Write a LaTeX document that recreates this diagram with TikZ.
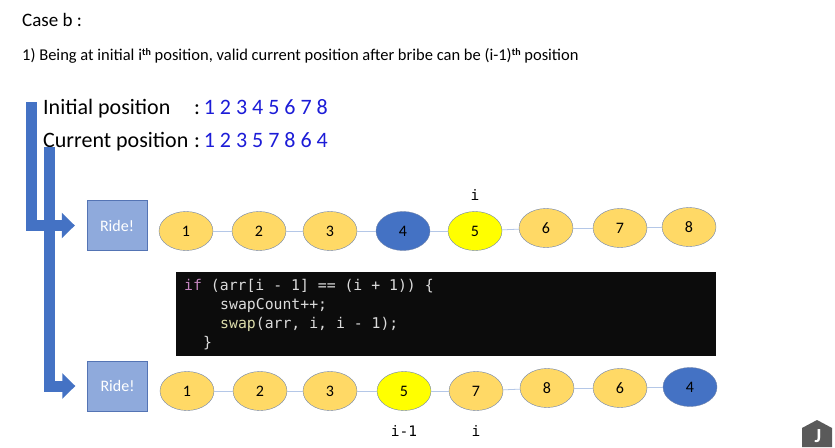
\documentclass[tikz,border=0pt]{standalone}
\usepackage{fontspec}
\setmainfont{Carlito}
\newfontfamily\codefont{DejaVu Sans Mono}
\usetikzlibrary{shapes.geometric,arrows.meta,positioning}
\definecolor{arrowblue}{RGB}{68,114,196}
\definecolor{ridefill}{RGB}{143,170,220}
\definecolor{rideedge}{RGB}{84,116,180}
\definecolor{ballgold}{RGB}{255,217,102}
\definecolor{ballyellow}{RGB}{255,255,0}
\definecolor{balledge}{RGB}{110,130,170}
\definecolor{linkblue}{RGB}{180,199,231}
\definecolor{numblue}{RGB}{28,28,215}
\definecolor{codebg}{RGB}{12,12,12}
\definecolor{codetext}{RGB}{220,220,220}
\definecolor{codepink}{RGB}{197,134,192}
\definecolor{codeyellow}{RGB}{220,220,170}
\definecolor{jgray}{RGB}{90,90,90}
\newcommand{\thsup}{\raisebox{0.55ex}{\fontsize{10}{10}\selectfont\bfseries th}}

\tikzset{
	ridebox/.style={draw=rideedge, fill=ridefill, minimum width=60pt, minimum height=50pt, text=white, font=\fontsize{16}{18}\selectfont},
	ball/.style={ellipse, draw=balledge, fill=ballgold, minimum width=54pt, minimum height=39pt, inner sep=0pt, font=\fontsize{16}{18}\selectfont},
	link/.style={draw=linkblue, line width=0.8pt},
	bigarrow/.style={draw=arrowblue, line width=11pt, line join=miter, -{Triangle[width=25pt,length=13pt]}, shorten >=12pt},
	idx/.style={inner sep=0pt, font=\codefont\fontsize{14.5}{17}\selectfont},
	codeline/.style={anchor=base west, inner sep=0pt, text=codetext, font=\codefont\fontsize{14.8}{19}\selectfont},
	plain/.style={anchor=base west, inner sep=0pt},
}

\begin{document}
\begin{tikzpicture}[x=1pt, y=-1pt]
	\useasboundingbox (0,0) rectangle (835,447);

	% heading
	\node[plain, font=\fontsize{19}{21}\selectfont] (casetitle) at (22,26) {Case b :};
	\node[plain, font=\fontsize{16.5}{18}\selectfont] (claim) at (22,60) {1) Being at initial i\thsup{} position, valid current position after bribe can be (i-1)\thsup{} position};

	% positions
	\node[plain, font=\fontsize{22}{24}\selectfont] (initlabel) at (43,114) {Initial position};
	\node[plain, font=\fontsize{22}{24}\selectfont] (initnums) at (194,114) {:\,\textcolor{numblue}{1 2 3 4 5 6 7 8}};
	\node[plain, font=\fontsize{22}{24}\selectfont] (currlabel) at (43,147) {Current position};
	\node[plain, font=\fontsize{22}{24}\selectfont] (currnums) at (194,147) {:\,\textcolor{numblue}{1 2 3 5 7 8 6 4}};

	% ride boxes
	\node[ridebox] (ride1) at (117,225.5) {Ride!};
	\node[ridebox] (ride2) at (117.5,386) {Ride!};

	% big arrows
	\coordinate (start1) at (31,102);
	\coordinate (start2) at (49,147);
	\draw[bigarrow] (start1) |- (ride1.west);
	\draw[bigarrow] (start2) |- (ride2.west);

	% initial line
	\node[ball] (top1) at (186,231) {1};
	\node[ball] (top2) at (259,231) {2};
	\node[ball] (top3) at (330,231) {3};
	\node[ball, fill=arrowblue] (top4) at (403,231) {4};
	\node[ball, fill=ballyellow] (top5) at (475,231) {5};
	\node[ball] (top6) at (546,228) {6};
	\node[ball] (top7) at (620,228) {7};
	\node[ball] (top8) at (689,227) {8};
	\foreach \a/\b in {1/2,2/3,3/4,4/5,5/6,6/7,7/8}
		\draw[link] (top\a) -- (top\b);
	\node[idx] (topi) at (475,195) {i};

	% code
	\node[fill=codebg, minimum width=540pt, minimum height=84pt, inner sep=0pt] (codebox) at (446,314) {};
	\node[codeline] (code1) at (184,290) {\textcolor{codepink}{if} (arr[i - 1] == (i + 1)) \{};
	\node[codeline] (code2) at (220,309) {swapCount++;};
	\node[codeline] (code3) at (220,328) {\textcolor{codeyellow}{swap}(arr, i, i - 1);};
	\node[codeline] (code4) at (203,347) {\}};

	% current line
	\node[ball] (bot1) at (187,391) {1};
	\node[ball] (bot2) at (260,391) {2};
	\node[ball] (bot3) at (330,391) {3};
	\node[ball, fill=ballyellow] (bot4) at (404,391) {5};
	\node[ball] (bot5) at (476,391) {7};
	\node[ball] (bot6) at (547,388) {8};
	\node[ball] (bot7) at (620,388) {6};
	\node[ball, fill=arrowblue] (bot8) at (690,387) {4};
	\foreach \a/\b in {1/2,2/3,3/4,4/5,5/6,6/7,7/8}
		\draw[link] (bot\a) -- (bot\b);
	\node[idx] (botprev) at (404,431) {i-1};
	\node[idx] (boti) at (476,431) {i};

	% logo
	\fill[jgray] (802,447) -- (802,428) -- (817,420) -- (832,428) -- (832,447) -- cycle;
	\node[inner sep=0pt, text=white, font=\fontsize{20}{20}\selectfont\bfseries] (logo) at (818,436) {J};
\end{tikzpicture}
\end{document}
